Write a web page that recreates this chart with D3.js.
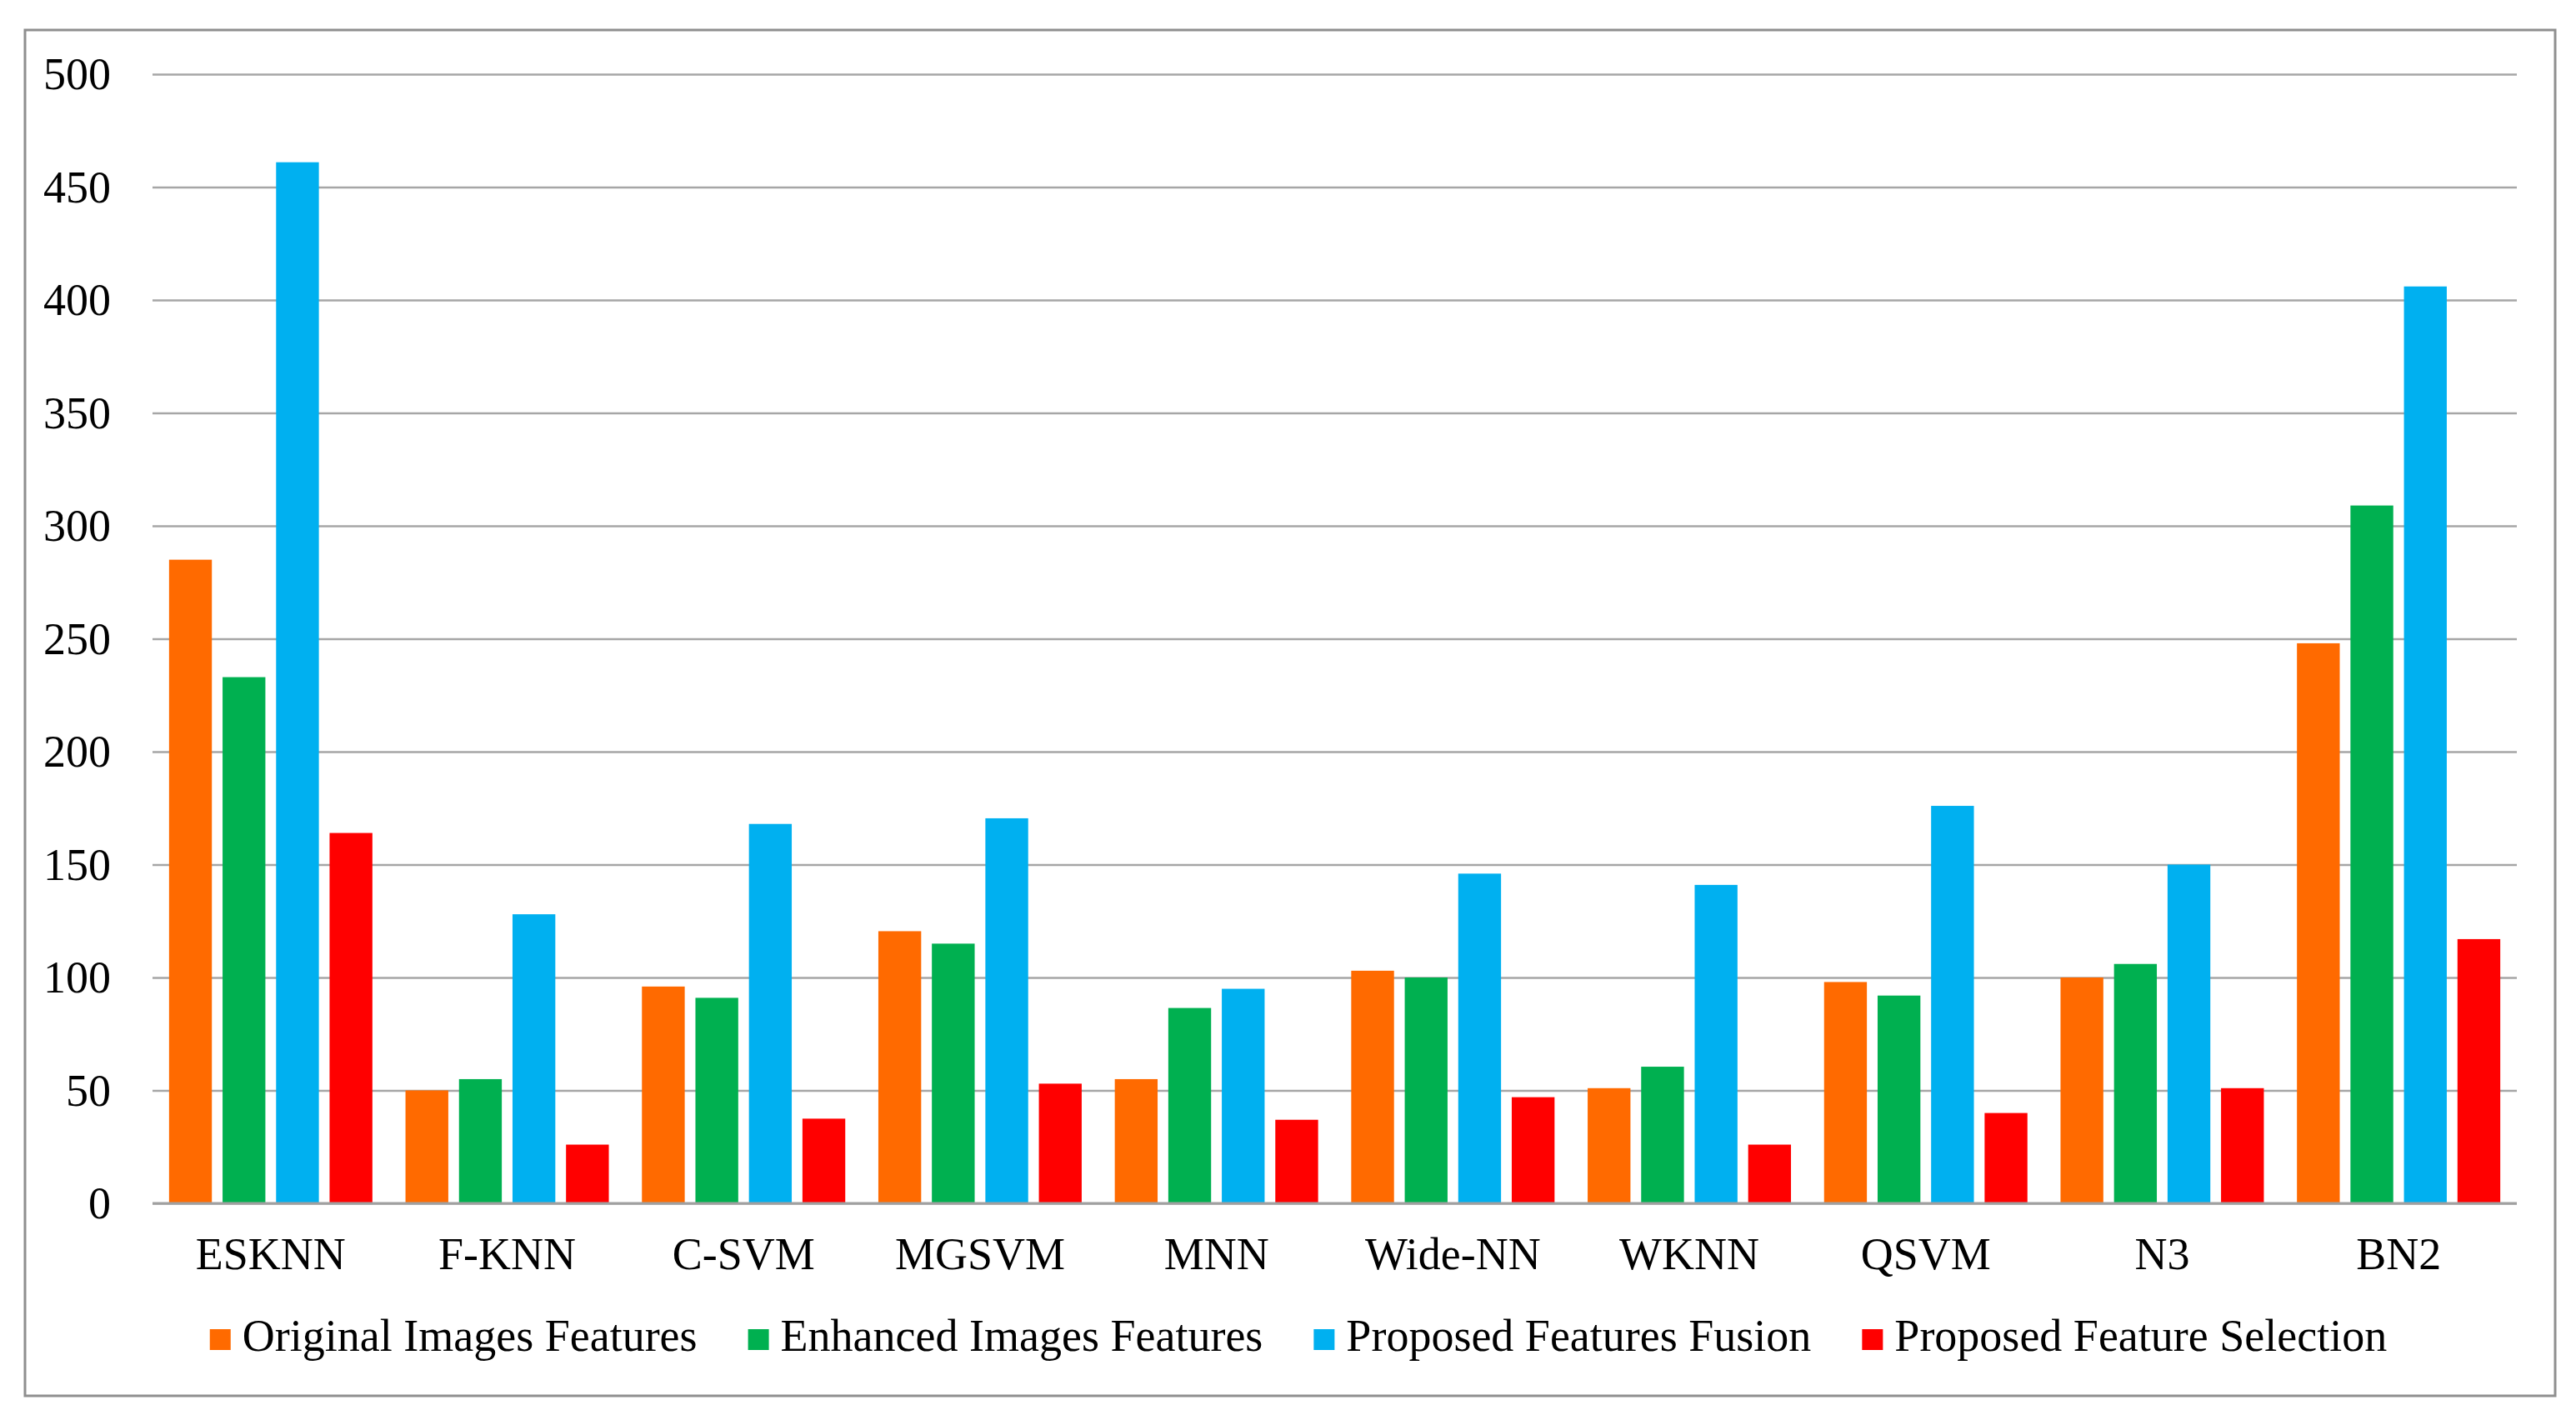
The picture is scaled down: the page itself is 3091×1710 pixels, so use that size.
<!DOCTYPE html>
<html>
<head>
<meta charset="utf-8">
<script src="https://cdn.jsdelivr.net/npm/d3@7"></script>
<style>
  html, body { margin: 0; padding: 0; background: #ffffff; }
  svg { display: block; }
</style>
</head>
<body>
<svg id="chart" width="3091" height="1710"></svg>
<script>
// ---- data ----
const categories = ["ESKNN", "F-KNN", "C-SVM", "MGSVM", "MNN", "Wide-NN", "WKNN", "QSVM", "N3", "BN2"];
const seriesNames = ["Original Images Features", "Enhanced Images Features", "Proposed Features Fusion", "Proposed Feature Selection"];
const originalFeatures = [285, 50, 96, 120.5, 55, 103, 51, 98, 100, 248];
const enhancedFeatures = [233, 55, 91, 115, 86.5, 100, 60.5, 92, 106, 309];
const fusionFeatures = [461, 128, 168, 170.5, 95, 146, 141, 176, 150, 406];
const selectionFeatures = [164, 26, 37.5, 53, 37, 47, 26, 40, 51, 117];
const yTicks = [0, 50, 100, 150, 200, 250, 300, 350, 400, 450, 500];
const seriesColors = ["#FF6A00", "#00B050", "#00B0F0", "#FF0000"];

const seriesValues = [originalFeatures, enhancedFeatures, fusionFeatures, selectionFeatures];
const table = categories.map((c, i) => ({ category: c, values: seriesValues.map(s => s[i]) }));

// ---- layout ----
const W = 3091, H = 1710;
const plotLeft = 183, plotRight = 3020, plotTop = 89, plotBottom = 1444;
const FONT = "'Liberation Serif', 'Times New Roman', serif";
const FS = 54;

const svg = d3.select("#chart");
svg.append("rect").attr("x", 0).attr("y", 0).attr("width", W).attr("height", H).attr("fill", "#fff");

// outer frame
svg.append("rect")
  .attr("x", 30).attr("y", 36).attr("width", 3036).attr("height", 1639)
  .attr("fill", "#fff").attr("stroke", "#8f8f8f").attr("stroke-width", 3);

const x0 = d3.scaleBand().domain(categories).range([plotLeft, plotRight]).paddingInner(0.14).paddingOuter(0.07);
const x1 = d3.scaleBand().domain(d3.range(seriesNames.length)).range([0, x0.bandwidth()]).paddingInner(0.2).paddingOuter(0);
const y = d3.scaleLinear().domain([0, 500]).range([plotBottom, plotTop]);

// y axis with gridlines
const yAxis = d3.axisLeft(y).tickValues(yTicks).tickSizeInner(-(plotRight - plotLeft)).tickSizeOuter(0).tickPadding(50);
const gy = svg.append("g").attr("transform", `translate(${plotLeft},0)`).call(yAxis);
gy.select(".domain").remove();
gy.selectAll(".tick line").attr("stroke", "#a6a6a6").attr("stroke-width", 2.6);
gy.selectAll(".tick text")
  .attr("font-family", FONT).attr("font-size", FS).attr("fill", "#000")
  .attr("dy", "0.33em");

// bars
const groups = svg.append("g").selectAll("g").data(table).join("g")
  .attr("transform", d => `translate(${x0(d.category)},0)`);
groups.selectAll("rect").data(d => d.values.map((v, i) => ({ i, v }))).join("rect")
  .attr("x", d => x1(d.i))
  .attr("y", d => y(d.v))
  .attr("width", x1.bandwidth())
  .attr("height", d => y(0) - y(d.v))
  .attr("fill", d => seriesColors[d.i]);

// baseline
svg.append("line").attr("x1", plotLeft).attr("x2", plotRight).attr("y1", y(0)).attr("y2", y(0))
  .attr("stroke", "#a0a0a0").attr("stroke-width", 3);

// x axis
const xAxis = d3.axisBottom(x0).tickSize(0).tickPadding(0);
const gx = svg.append("g").attr("transform", `translate(0,${plotBottom})`).call(xAxis);
gx.select(".domain").remove();
gx.selectAll(".tick text")
  .attr("font-family", FONT).attr("font-size", FS).attr("fill", "#000")
  .attr("y", 79).attr("dy", 0);

// legend
const legend = svg.append("g");
const items = legend.selectAll("g").data(seriesNames).join("g");
items.append("rect").attr("width", 25).attr("height", 25).attr("y", 1595)
  .attr("fill", (d, i) => seriesColors[i]);
items.append("text").attr("x", 39).attr("y", 1621)
  .attr("font-family", FONT).attr("font-size", FS).attr("fill", "#000")
  .text(d => d);
const gap = 61;
let widths = [];
items.each(function () { widths.push(39 + d3.select(this).select("text").node().getComputedTextLength()); });
const total = d3.sum(widths) + gap * (widths.length - 1);
let cx = 1558 - total / 2;
items.each(function (d, i) {
  d3.select(this).attr("transform", `translate(${cx},0)`);
  cx += widths[i] + gap;
});
</script>
</body>
</html>
